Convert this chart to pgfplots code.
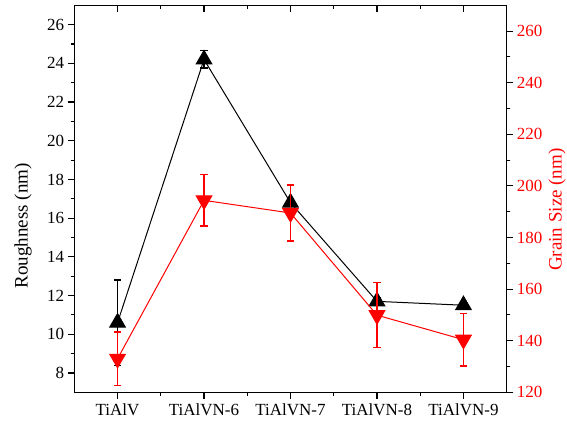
\documentclass[border=0pt]{standalone}
\usepackage{fontspec}
\setmainfont{Liberation Serif}
\usepackage{pgfplots}
\pgfplotsset{compat=1.18}

\definecolor{gsred}{RGB}{255,0,0}

\pgfplotsset{
  common/.style={
    scale only axis,
    width=432.4bp, height=387bp,
    at={(74.3bp,33.7bp)}, anchor=south west,
    xmin=-0.5, xmax=4.5,
    xtick={0,1,2,3,4},
    minor x tick num=1,
    major tick length=6.6bp,
    minor tick length=3.6bp,
    every tick/.style={black, line width=1.1bp},
    axis line style={line width=1.3bp},
    tick label style={font=\fontsize{17bp}{20bp}\selectfont},
    label style={font=\fontsize{19bp}{22bp}\selectfont},
    /pgf/number format/assume math mode=true,
  },
}

\begin{document}
\begin{tikzpicture}[x=1bp,y=1bp]
\useasboundingbox (0,0) rectangle (567,426);

% top frame: inward ticks only
\begin{axis}[common,
  ymin=7, ymax=27,
  axis x line*=top, axis y line=none,
  tick align=inside,
  xticklabels={},
]
\addplot[draw=none] coordinates {(0,10)};
\end{axis}

% roughness (left axis)
\begin{axis}[common,
  ymin=7, ymax=27,
  axis x line*=bottom, axis y line*=left,
  tick align=outside,
  ytick={8,10,...,26},
  minor y tick num=1,
  xticklabels={TiAlV,TiAlVN-6,TiAlVN-7,TiAlVN-8,TiAlVN-9},
  xticklabel style={yshift=-1bp},
  ylabel={Roughness (nm)},
  ylabel style={at={(axis description cs:-0.1186,0.43)}, anchor=center, rotate=0},
]
\addplot[black, line width=1bp, mark=triangle*, mark size=9bp,
  mark options={solid},
  error bars/.cd, y dir=both, y explicit,
  error bar style={line width=1.4bp, black},
  error mark options={rotate=90, mark size=3.6bp, line width=1.4bp, black}]
  coordinates {
    (0,10.6) +- (0,2.2)
    (1,24.2) +- (0,0.45)
    (2,16.8) +- (0,0.2)
    (3,11.7) +- (0,0.2)
    (4,11.5) +- (0,0.2)
  };
\end{axis}

% grain size (right axis)
\begin{axis}[common,
  ymin=120, ymax=270,
  axis x line=none, axis y line*=right,
  tick align=outside,
  ytick={120,140,...,260},
  minor y tick num=1,
  yticklabel style={gsred},
  ylabel={Grain Size (nm)},
  ylabel style={gsred, inner sep=0pt, at={(axis description cs:1.1163,0.472)}, anchor=center, rotate=0},
]
\addplot[gsred, line width=1bp, mark=triangle*, mark size=9bp,
  mark options={solid, rotate=180},
  error bars/.cd, y dir=both, y explicit,
  error bar style={line width=1.4bp, gsred},
  error mark options={rotate=90, mark size=3.6bp, line width=1.4bp, gsred}]
  coordinates {
    (0,133.0) +- (0,10.4)
    (1,194.4) +- (0,10.0)
    (2,189.5) +- (0,10.9)
    (3,149.9) +- (0,12.6)
    (4,140.4) +- (0,10.2)
  };
\end{axis}
\end{tikzpicture}
\end{document}
